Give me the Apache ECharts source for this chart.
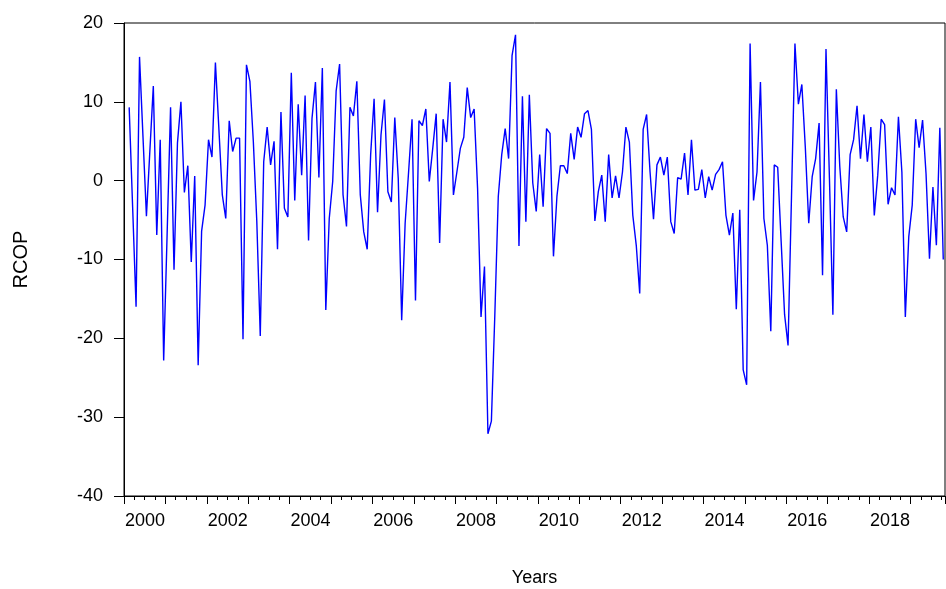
<!DOCTYPE html>
<html>
<head>
<meta charset="utf-8">
<script src="https://cdn.jsdelivr.net/npm/echarts@6/dist/echarts.min.js"></script>
<style>html,body{margin:0;padding:0;background:#fff}#container{width:946px;height:589px}</style>
</head>
<body>
<div id="container"></div>
<script>
// monthly RCOP, 2000M2 .. 2019M10
var rcop = [
  9.3, -3.3, -16.0, 15.7, 5.6, -4.5, 3.8, 12.0, -6.9, 5.2, -22.8,
  -6.8, 9.3, -11.3, 4.8, 10.0, -1.5, 1.9, -10.3, 0.6, -23.4, -6.4,
  -3.1, 5.2, 3.0, 15.0, 6.6, -1.8, -4.8, 7.6, 3.7, 5.4, 5.4, -20.1, 14.7, 12.6,
  4.9, -5.2, -19.7, 2.4, 6.8, 2.0, 5.0, -8.7, 8.7, -3.5, -4.6, 13.7,
  -2.5, 9.7, 0.7, 10.8, -7.6, 7.9, 12.5, 0.4, 14.3, -16.4, -4.8, -0.1,
  11.4, 14.8, -1.8, -5.8, 9.3, 8.2, 12.6, -1.8, -6.5, -8.7, 3.3, 10.4,
  -4.0, 5.8, 10.3, -1.4,
  -2.7, 8.0, 0.3, -17.7, -5.4, 1.1, 7.8, -15.2, 7.6, 7.0, 9.1, -0.1,
  4.1, 8.5, -7.9, 7.8, 4.9, 12.5, -1.8, 1.1, 4.1, 5.5, 11.8, 8.0,
  9.1, -1.0, -17.3, -10.9, -32.1, -30.5, -17.0, -2.0, 3.3, 6.6, 2.8, 15.9,
  18.5, -8.3, 10.7,
  -5.2, 10.9, -0.3, -3.9, 3.3, -3.3, 6.6, 6.0, -9.6, -2.0, 1.9, 1.9,
  0.9, 6.0, 2.7, 6.8, 5.5, 8.5, 8.9, 6.5, -5.1, -1.4, 0.7, -5.2,
  3.3, -2.2, 0.6, -2.2, 1.1, 6.8, 4.9, -4.4, -8.2, -14.3, 6.5, 8.4,
  1.1, -4.9, 2.0,
  3.0, 0.7, 3.0, -5.2, -6.7, 0.4, 0.2, 3.5, -1.8, 5.2, -1.2, -1.1,
  1.4, -2.2, 0.5, -1.2, 0.8, 1.4, 2.4, -4.4, -6.9, -4.1, -16.3, -3.7,
  -24.0, -25.9, 17.4, -2.5, 1.1, 12.5, -4.8, -8.2, -19.1, 2.0, 1.7, -7.7,
  -17.0, -20.9,
  -2.0, 17.4, 9.7, 12.2, 4.3, -5.4, 0.5, 2.8, 7.3, -12.0, 16.7, 0.3,
  -17.0, 11.6, 1.8, -4.6, -6.5, 3.3, 5.2, 9.5, 2.8, 8.4, 2.4, 6.8,
  -4.4, 0.7, 7.8, 7.1, -3.0, -0.9, -1.8, 8.1, 1.1, -17.3, -7.1, -3.1,
  7.8, 4.2, 7.7, 0.9, -9.9, -0.8, -8.2, 6.7, -10.0
];
var startYear = 2000;
var yTicks = { min: -40, max: 20, step: 10 };

var months = [];
for (var i = 0; i < rcop.length + 1; i++) {
    months.push((startYear + Math.floor(i / 12)) + 'M' + (i % 12 + 1));
}
var values = [null].concat(rcop);

var dom = document.getElementById('container');
var myChart = echarts.init(dom);
var font = 'Liberation Sans, Arial, sans-serif';
var option = {
    animation: false,
    grid: { left: 124, right: 1, top: 23, bottom: 93, outerBoundsMode: 'none', containLabel: false,
            show: true, borderColor: '#000', borderWidth: 1 },
    xAxis: [{
        type: 'category', data: months, boundaryGap: true, position: 'bottom',
        axisLine: { onZero: false, lineStyle: { color: '#000' } },
        axisTick: { show: true, length: 4, interval: function (i) { return i % 3 === 0; }, lineStyle: { color: '#000' } },
        axisLabel: { show: false }
    }, {
        type: 'category', data: months, boundaryGap: true, position: 'bottom',
        name: 'Years', nameLocation: 'middle', nameGap: 73,
        nameTextStyle: { fontFamily: font, fontSize: 18, color: '#000' },
        axisLine: { onZero: false, lineStyle: { color: '#000' } },
        axisTick: { show: true, length: 8, interval: function (i) { return i % 12 === 0; }, lineStyle: { color: '#000' } },
        axisLabel: {
            interval: function (i) { return i % 24 === 6; },
            formatter: function (v) { return v.split('M')[0]; },
            padding: [0, 3, 0, 0],
            margin: 16, fontFamily: font, fontSize: 18, color: '#000'
        }
    }],
    yAxis: {
        type: 'value', min: yTicks.min, max: yTicks.max, interval: yTicks.step,
        name: 'RCOP', nameLocation: 'middle', nameGap: 93,
        nameTextStyle: { fontFamily: font, fontSize: 20, color: '#000' },
        splitLine: { show: false },
        axisLine: { show: true, onZero: false, lineStyle: { color: '#000' } },
        axisTick: { show: true, length: 10, lineStyle: { color: '#000' } },
        axisLabel: { margin: 21, fontFamily: font, fontSize: 18, color: '#000' }
    },
    series: [{
        type: 'line', xAxisIndex: 0, data: values, showSymbol: false,
        lineStyle: { color: '#0000ff', width: 1.4 }, itemStyle: { color: '#0000ff' }
    }]
};
myChart.setOption(option, true);
</script>
</body>
</html>
